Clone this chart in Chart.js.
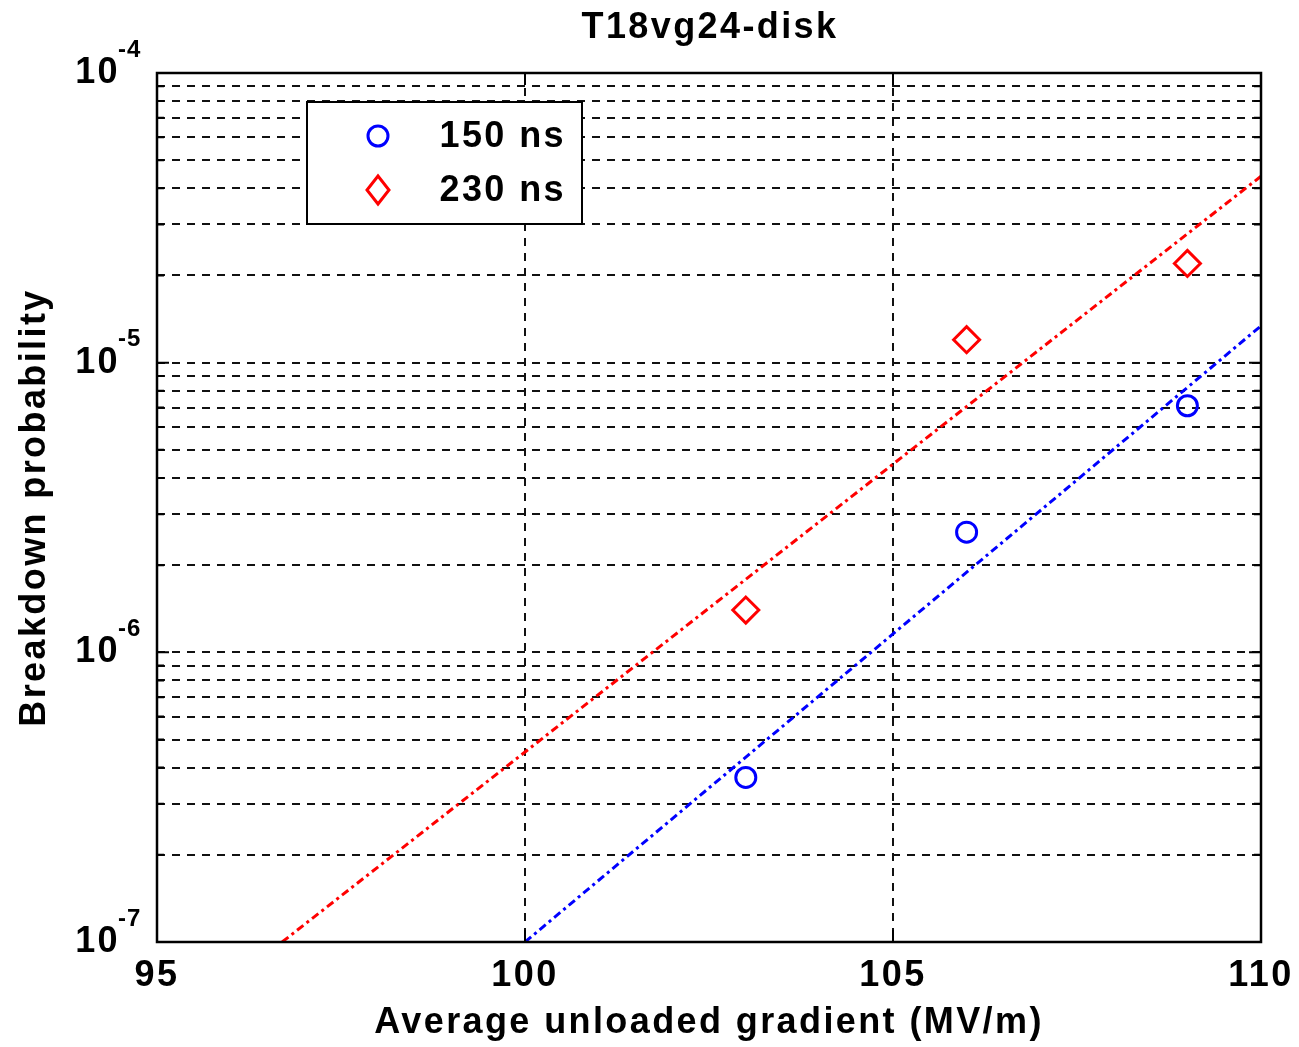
<!DOCTYPE html>
<html>
<head>
<meta charset="utf-8">
<script src="https://cdn.jsdelivr.net/npm/chart.js@4/dist/chart.umd.min.js"></script>
<style>
  html, body { margin: 0; padding: 0; background: #fff; }
  #wrap { width: 1299px; height: 1047px; }
</style>
</head>
<body>
<div id="wrap"><canvas id="bdr"></canvas></div>
<script>
// measured points
const gradient = [103, 106, 109];
const prob150 = [3.7e-7, 2.6e-6, 7.1e-6];
const prob230 = [1.4e-6, 1.2e-5, 2.2e-5];

// fit lines (end points)
const fit150X = [100, 110];
const fit150Y = [1e-7, 1.34e-5];
const fit230X = [96.7, 110];
const fit230Y = [1e-7, 4.4e-5];

const chartTitle = 'T18vg24-disk';
const seriesLabels = ['150 ns', '230 ns'];
const xTicks = [95, 100, 105, 110];
const yExponents = [-7, -6, -5, -4];
const yMinor = [2, 3, 4, 5, 6, 7, 8, 9];

const FONT = "'Liberation Sans', Arial, sans-serif";
const SPACING = '2.4px';

let yTickValues = [];
yExponents.forEach((e, i) => {
    yTickValues.push(Math.pow(10, e));
    if (i < yExponents.length - 1) yMinor.forEach(m => yTickValues.push(m * Math.pow(10, e)));
});

const toXY = (xs, ys) => xs.map((x, i) => ({x: x, y: ys[i]}));

const isDecade = v => Math.abs(Math.log10(v) - Math.round(Math.log10(v))) < 1e-6;

// wider MATLAB-like text
const spacing = {
    id: 'spacing',
    beforeDraw(chart) { chart.ctx.letterSpacing = SPACING; }
};

// title, superscript y labels, inside ticks, box and legend
const decor = {
    id: 'decor',
    afterDraw(chart) {
        const ctx = chart.ctx;
        const a = chart.chartArea;
        const xs = chart.scales.x, ys = chart.scales.y;
        ctx.save();
        ctx.letterSpacing = SPACING;

        // inside ticks
        ctx.strokeStyle = '#000';
        ctx.lineWidth = 2;
        ctx.setLineDash([]);
        yTickValues.forEach(v => {
            const y = ys.getPixelForValue(v);
            const len = isDecade(v) ? 12 : 7;
            ctx.beginPath();
            ctx.moveTo(a.left, y); ctx.lineTo(a.left + len, y);
            ctx.moveTo(a.right, y); ctx.lineTo(a.right - len, y);
            ctx.stroke();
        });
        xTicks.forEach(v => {
            const x = xs.getPixelForValue(v);
            ctx.beginPath();
            ctx.moveTo(x, a.bottom); ctx.lineTo(x, a.bottom - 12);
            ctx.moveTo(x, a.top); ctx.lineTo(x, a.top + 12);
            ctx.stroke();
        });

        // box
        ctx.lineWidth = 2.5;
        ctx.strokeRect(a.left, a.top, a.right - a.left, a.bottom - a.top);

        // title
        ctx.fillStyle = '#000';
        ctx.textBaseline = 'middle';
        ctx.textAlign = 'center';
        ctx.font = 'bold 36px ' + FONT;
        ctx.fillText(chartTitle, (a.left + a.right) / 2 + 1, 28);

        // y labels 10^n
        yExponents.forEach(e => {
            const y = ys.getPixelForValue(Math.pow(10, e));
            ctx.font = 'bold 36px ' + FONT;
            ctx.letterSpacing = SPACING;
            ctx.textAlign = 'right';
            ctx.fillText('10', 120, y);
            ctx.font = 'bold 24px ' + FONT;
            ctx.letterSpacing = '1px';
            ctx.textAlign = 'left';
            ctx.fillText(String(e), 118, y - 23);
        });
        ctx.letterSpacing = SPACING;

        // legend
        const lx = 307, ly = 102, lw = 275, lh = 122;
        ctx.fillStyle = '#fff';
        ctx.fillRect(lx, ly, lw, lh);
        ctx.strokeStyle = '#000';
        ctx.lineWidth = 2;
        ctx.strokeRect(lx, ly, lw, lh);
        const rows = [136, 190];
        [0, 1].forEach(i => {
            const ds = chart.data.datasets[i];
            const y = rows[i];
            ctx.strokeStyle = ds.borderColor;
            ctx.lineWidth = 3;
            ctx.beginPath();
            if (ds.pointStyle === 'circle') {
                ctx.arc(378, y, 10, 0, Math.PI * 2);
            } else {
                ctx.moveTo(378, y - 14); ctx.lineTo(389, y); ctx.lineTo(378, y + 14); ctx.lineTo(367, y); ctx.closePath();
            }
            ctx.stroke();
            ctx.fillStyle = '#000';
            ctx.font = 'bold 36px ' + FONT;
            ctx.textAlign = 'right';
            ctx.fillText(ds.label, 566, y + 1);
        });
        ctx.restore();
    }
};

new Chart(document.getElementById('bdr'), {
    type: 'scatter',
    data: {
        datasets: [
            {
                label: seriesLabels[0],
                data: toXY(gradient, prob150),
                borderColor: '#0000ff',
                backgroundColor: 'rgba(0,0,0,0)',
                pointStyle: 'circle',
                pointRadius: 10,
                pointBorderWidth: 3,
                showLine: false
            },
            {
                label: seriesLabels[1],
                data: toXY(gradient, prob230),
                borderColor: '#ff0000',
                backgroundColor: 'rgba(0,0,0,0)',
                pointStyle: 'rectRot',
                pointRadius: 13,
                pointBorderWidth: 3,
                showLine: false
            },
            {
                label: 'fit 150',
                data: toXY(fit150X, fit150Y),
                borderColor: '#0000ff',
                borderWidth: 3,
                borderDash: [8, 4, 3, 4],
                pointRadius: 0,
                showLine: true
            },
            {
                label: 'fit 230',
                data: toXY(fit230X, fit230Y),
                borderColor: '#ff0000',
                borderWidth: 3,
                borderDash: [8, 4, 3, 4],
                pointRadius: 0,
                showLine: true
            }
        ]
    },
    options: {
        responsive: true,
        maintainAspectRatio: false,
        animation: false,
        layout: { padding: { left: 0, right: 38, top: 73, bottom: 0 } },
        plugins: {
            legend: { display: false },
            tooltip: { enabled: false },
            title: { display: false }
        },
        scales: {
            x: {
                type: 'linear',
                min: 95,
                max: 110,
                afterBuildTicks: s => { s.ticks = xTicks.map(v => ({value: v})); },
                afterFit: s => { s.height = 105; s.paddingLeft = 0; s.paddingRight = 0; },
                ticks: {
                    color: '#000',
                    font: { family: FONT, size: 36, weight: 'bold' },
                    padding: 12,
                    maxRotation: 0
                },
                grid: { color: '#111', lineWidth: 2, drawTicks: false },
                border: { display: false, dash: [8, 7] },
                title: {
                    display: true,
                    text: 'Average unloaded gradient (MV/m)',
                    color: '#000',
                    font: { family: FONT, size: 36, weight: 'bold' },
                    padding: { top: 0, bottom: 2 }
                }
            },
            y: {
                type: 'logarithmic',
                min: 1e-7,
                max: 1e-4,
                afterBuildTicks: s => { s.ticks = yTickValues.map(v => ({value: v})); },
                afterFit: s => { s.width = 157; s.paddingTop = 0; s.paddingBottom = 0; },
                ticks: { callback: () => '', display: true },
                grid: { color: '#111', lineWidth: 2, drawTicks: false },
                border: { display: false, dash: [8, 7] },
                title: {
                    display: true,
                    text: 'Breakdown probability',
                    color: '#000',
                    font: { family: FONT, size: 36, weight: 'bold' },
                    padding: { top: 13, bottom: 0 }
                }
            }
        }
    },
    plugins: [spacing, decor]
});
</script>
</body>
</html>
